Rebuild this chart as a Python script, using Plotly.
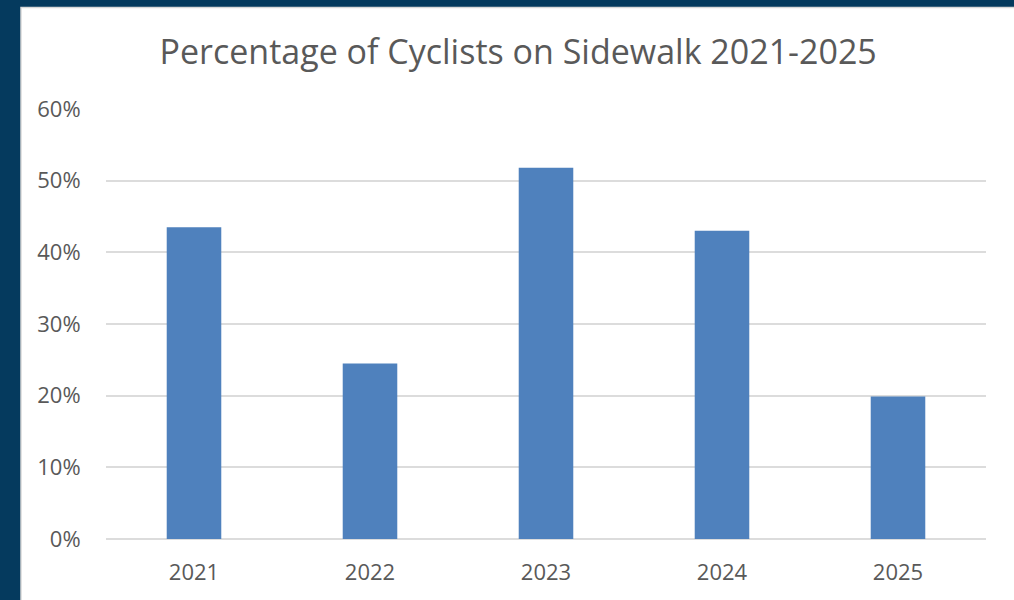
import plotly.graph_objects as go

years = ["2021", "2022", "2023", "2024", "2025"]
pct_on_sidewalk = [0.435, 0.245, 0.518, 0.430, 0.199]
y_ticks = [0, 0.1, 0.2, 0.3, 0.4, 0.5, 0.6]
y_tick_labels = ["0%", "10%", "20%", "30%", "40%", "50%", "60%"]

W, H = 1014, 600
L, R, T, B = 106, 28, 109, 61
pw, ph = W - L - R, H - T - B

def px_x(px):
    return (px - L) / pw

def px_y(py):
    return (H - B - py) / ph

fig = go.Figure()
fig.add_trace(go.Bar(x=years, y=pct_on_sidewalk, marker=dict(color="#4f81bd", line=dict(width=0))))

fig.update_layout(
    width=W, height=H,
    margin=dict(l=L, r=R, t=T, b=B),
    paper_bgcolor="#053a5e",
    plot_bgcolor="white",
    bargap=0.69,
    showlegend=False,
    font=dict(family="Open Sans", color="#595959"),
    title=dict(text="Percentage of Cyclists on Sidewalk 2021-2025", x=0.511, xanchor="center",
               y=1 - 52 / H, yanchor="middle", font=dict(size=34, color="#595959")),
    shapes=[dict(type="rect", xref="paper", yref="paper", layer="below",
                 x0=px_x(21), x1=px_x(1020), y0=px_y(610), y1=px_y(7.5),
                 fillcolor="white", line=dict(color="#d9d9d9", width=1.5))],
)
fig.update_xaxes(showgrid=False, showline=False, tickfont=dict(size=22, color="#595959"),
                 ticks="outside", ticklen=14, tickcolor="rgba(0,0,0,0)")
fig.update_yaxes(range=[0, 0.6], tickvals=y_ticks, ticktext=y_tick_labels,
                 showgrid=True, gridcolor="#dcdcdc", gridwidth=1.5,
                 zeroline=True, zerolinecolor="#dcdcdc", zerolinewidth=1.5,
                 tickfont=dict(size=22, color="#595959"),
                 ticks="outside", ticklen=20, tickcolor="rgba(0,0,0,0)")
fig.write_html("out.html", config={"displayModeBar": False},
               post_script="document.body.style.margin='0';document.body.style.overflow='hidden';")
